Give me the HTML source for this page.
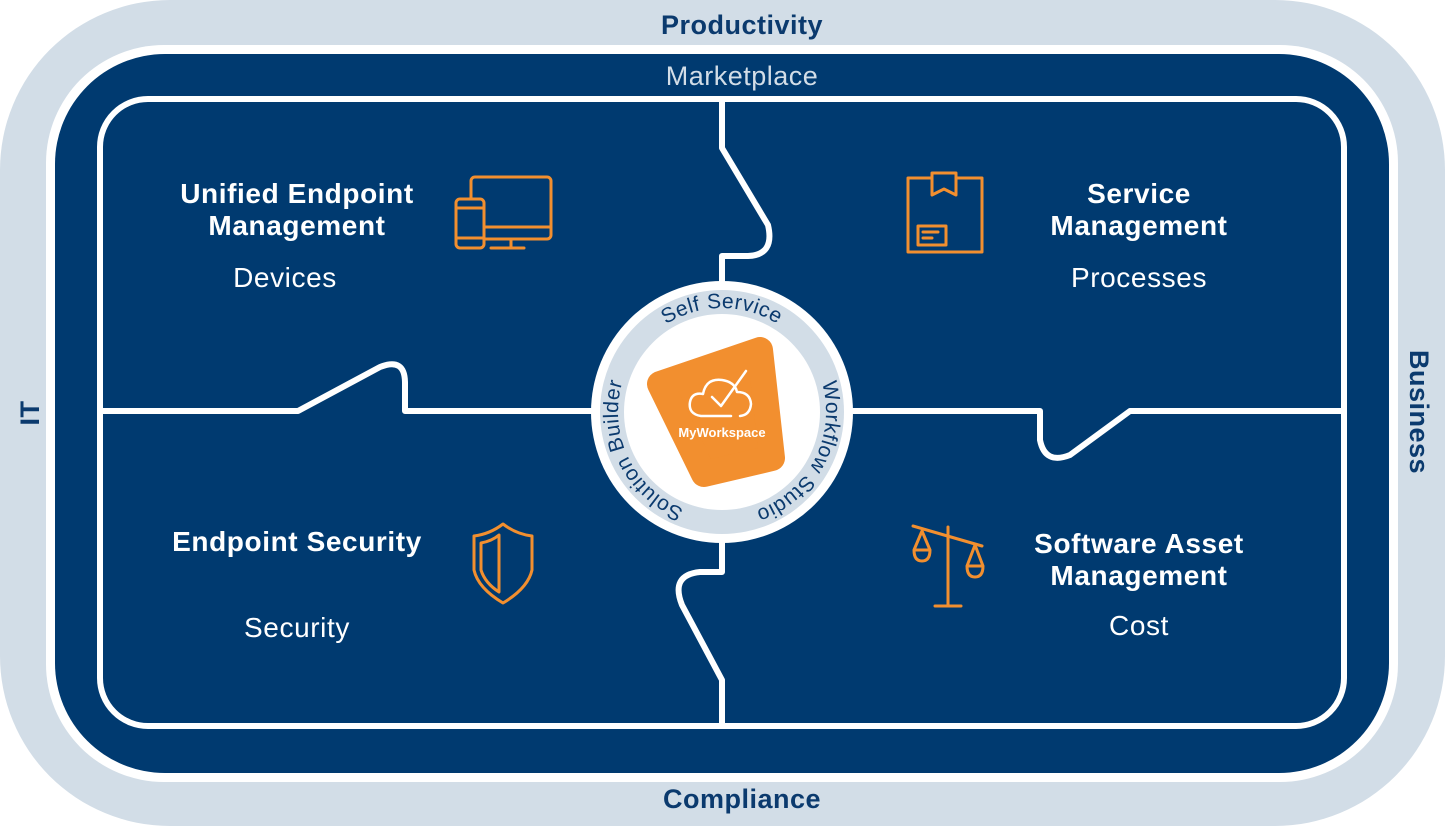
<!DOCTYPE html>
<html><head><meta charset="utf-8"><style>
html,body{margin:0;padding:0;background:#fff;}
svg{display:block}
text{font-family:"Liberation Sans",sans-serif;}
</style></head><body>
<svg width="1445" height="826" viewBox="0 0 1445 826" xmlns="http://www.w3.org/2000/svg">
<rect x="0" y="0" width="1445" height="826" rx="170" fill="#d2dde7"/>
<rect x="46" y="45" width="1352" height="737" rx="118" fill="#fff"/>
<rect x="55" y="54" width="1334" height="719" rx="110" fill="#003a70"/>
<g fill="none" stroke="#fff" stroke-width="6" stroke-linejoin="round">
<rect x="100" y="99" width="1244" height="627" rx="48"/>
<path d="M722 99 V148 L768 225 Q775 255 748 256 H722 V300"/>
<path d="M100 411 H298 L380 367 Q405 357 405 383 V411 H600"/>
<path d="M845 411 H1040 V440 Q1045 465 1070 455 L1130 411 H1344"/>
<path d="M722 530 V572 H700 Q670 575 682 605 L722 680 V726"/>
</g>
<circle cx="722" cy="412" r="131" fill="#fff"/>
<circle cx="722" cy="412" r="122" fill="#d2dde7"/>
<circle cx="722" cy="412" r="98" fill="#fff"/>
<defs><path id="ring" d="M618 412 A104 104 0 1 1 826 412 A104 104 0 1 1 618 412 A104 104 0 1 1 826 412 A104 104 0 1 1 618 412"/></defs>
<g font-size="21" fill="#0b3a6e" letter-spacing="0.5">
<text><textPath href="#ring" startOffset="163" text-anchor="middle">Self Service</textPath></text>
<text><textPath href="#ring" startOffset="376" text-anchor="middle">Workflow Studio</textPath></text>
<text><textPath href="#ring" startOffset="606" text-anchor="middle">Solution Builder</textPath></text>
</g>
<path d="M660 384 L760 350 L772 458 L704 474 Z" fill="#f28f2f" stroke="#f28f2f" stroke-width="26" stroke-linejoin="round"/>
<g fill="none" stroke="#fff" stroke-width="2.5" stroke-linecap="round" stroke-linejoin="round">
<path d="M731 416 H701 Q688 414 690 402 Q692 392 703 394 Q706 378 722 380 Q735 382 737 392 Q750 392 751 404 Q750 415 740 416"/>
<path d="M712 397 L721 406 L746 371"/>
</g>
<text x="722" y="437" font-size="13" font-weight="bold" fill="#fff" text-anchor="middle">MyWorkspace</text>
<g fill="#0b3a6e" font-weight="bold" font-size="27" text-anchor="middle" letter-spacing="0.5">
<text x="742" y="34">Productivity</text>
<text x="742" y="808">Compliance</text>
<text transform="translate(39,413) rotate(-90)" x="0" y="0">IT</text>
<text transform="translate(1410,412) rotate(90)" x="0" y="0">Business</text>
</g>
<text x="742" y="85" font-size="27" fill="#d2dde7" text-anchor="middle" letter-spacing="0.5">Marketplace</text>
<g fill="#fff" text-anchor="middle" letter-spacing="0.6">
<g font-weight="bold" font-size="28">
<text x="297" y="203">Unified Endpoint</text>
<text x="297" y="235">Management</text>
<text x="1139" y="203">Service</text>
<text x="1139" y="235">Management</text>
<text x="297" y="551">Endpoint Security</text>
<text x="1139" y="553">Software Asset</text>
<text x="1139" y="585">Management</text>
</g>
<g font-size="28">
<text x="285" y="287">Devices</text>
<text x="1139" y="287">Processes</text>
<text x="297" y="637">Security</text>
<text x="1139" y="635">Cost</text>
</g>
</g>
<g fill="none" stroke="#f28f2f" stroke-width="3" stroke-linecap="round" stroke-linejoin="round">
<rect x="471" y="177" width="80" height="62" rx="4"/><line x1="483" y1="227" x2="551" y2="227"/>
<line x1="511" y1="239" x2="511" y2="247"/><line x1="491" y1="248" x2="524" y2="248"/>
<rect x="456" y="199" width="28" height="49" rx="4" fill="#003a70"/><line x1="456" y1="208" x2="484" y2="208"/><line x1="456" y1="238" x2="484" y2="238"/>
<rect x="908" y="178" width="74" height="74"/><path d="M932 173 H956 V195 L944 189 L932 195 Z" fill="#003a70"/>
<rect x="918" y="226" width="28" height="19"/><line x1="923" y1="232" x2="938" y2="232"/><line x1="923" y1="238" x2="932" y2="238"/>
<path d="M503 524 Q490 534 474 536 V570 Q478 588 503 603 Q528 588 532 570 V536 Q516 534 503 524 Z"/>
<path d="M499 535 Q492 541 481 543 V570 Q485 583 499 592 Z"/>
<path d="M913 526 L982 546"/><line x1="948" y1="527" x2="948" y2="606"/><line x1="935" y1="606" x2="961" y2="606"/>
<path d="M922 531 L914 550 Q914 561 922 561 Q930 561 930 550 Z M914 550 H930"/>
<path d="M975 545 L967 566 Q967 577 975 577 Q983 577 983 566 Z M967 566 H983"/>
</g>
</svg>
</body></html>
